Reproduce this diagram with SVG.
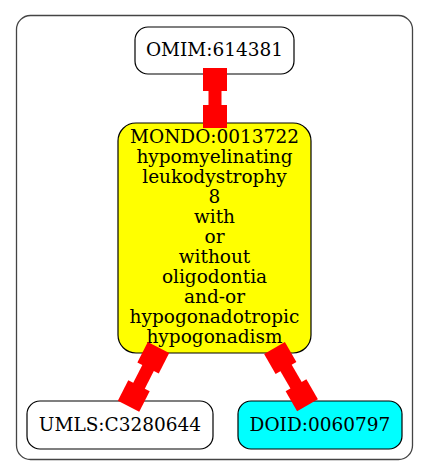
<svg xmlns="http://www.w3.org/2000/svg" width="429" height="476" viewBox="0 0 429 476">
<style>
text{font-family:"DejaVu Serif","Liberation Serif",serif;font-size:18.5px;fill:#000;text-anchor:middle}
.n{stroke:#000;stroke-width:1.2}
.e use{fill:#ff0000}
</style>
<defs>
<g id="edgeShape60" fill="#ff0000">
<rect x="-12" y="0" width="24" height="23"/>
<rect x="-6.5" y="22" width="13" height="16"/>
<rect x="-12" y="37" width="24" height="23"/>
</g>
<g id="edgeShape66" fill="#ff0000">
<rect x="-12" y="0" width="24" height="23"/>
<rect x="-6.5" y="22" width="13" height="22"/>
<rect x="-12" y="43" width="24" height="23"/>
</g>
</defs>
<rect x="16.5" y="15.5" width="396" height="444" rx="14" fill="#fff" stroke="#444" stroke-width="1.3"/>
<g id="omim">
<rect class="n" x="135" y="27" width="159" height="47" rx="13" fill="#fff"/>
<text x="214.5" y="56">OMIM:614381</text>
</g>
<g id="mondo">
<rect class="n" x="118" y="123" width="193" height="230" rx="18" fill="#ffff00"/>
<text x="214.5" y="142.7">MONDO:0013722</text>
<text x="214.5" y="162.7">hypomyelinating</text>
<text x="214.5" y="182.7">leukodystrophy</text>
<text x="214.5" y="202.7">8</text>
<text x="214.5" y="222.7">with</text>
<text x="214.5" y="242.7">or</text>
<text x="214.5" y="262.7">without</text>
<text x="214.5" y="282.7">oligodontia</text>
<text x="214.5" y="302.7">and-or</text>
<text x="214.5" y="322.7">hypogonadotropic</text>
<text x="214.5" y="342.7">hypogonadism</text>
</g>
<g id="umls">
<rect class="n" x="27" y="401" width="186" height="48" rx="13" fill="#fff"/>
<text x="120" y="431">UMLS:C3280644</text>
</g>
<g id="doid">
<rect class="n" x="238" y="401" width="164" height="48" rx="13" fill="#00ffff"/>
<text x="320" y="431">DOID:0060797</text>
</g>
<g id="connectors" class="e">
<use href="#edgeShape60" transform="translate(215,68)"/>
<use href="#edgeShape66" transform="translate(158.5,347.5) rotate(27)"/>
<use href="#edgeShape66" transform="translate(274.5,348) rotate(-30)"/>
</g>
</svg>
